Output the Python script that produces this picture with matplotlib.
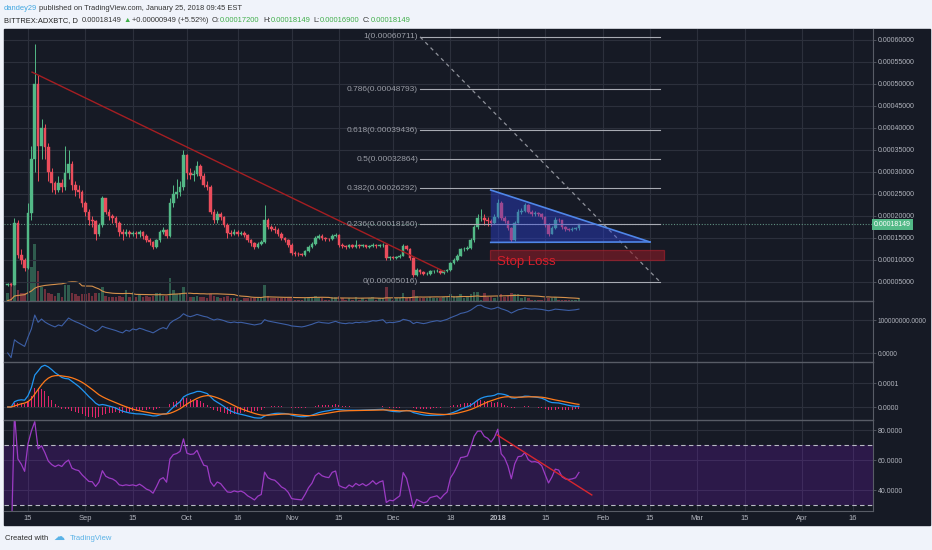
import numpy as np
import pandas as pd
import matplotlib
matplotlib.use("Agg")
import matplotlib.pyplot as plt
import matplotlib.dates as mdates
from matplotlib.patches import Rectangle, Polygon
from matplotlib.ticker import FuncFormatter

# ADX/BTC daily candles (Bittrex), prices in units of 1e-5 BTC
start = "2017-08-09"
first_open = 4.3
closes = [4.5, 4.4, 18.4, 11.2, 10.0, 8.2, 20.7, 33.0, 50.0, 36.0,
          40.0, 35.7, 30.0, 27.5, 26.0, 27.5, 26.5, 29.8, 31.8, 27.0,
          26.0, 25.5, 23.0, 21.0, 19.0, 18.8, 16.0, 18.0, 24.0, 21.0,
          20.0, 19.5, 18.4, 16.4, 16.0, 16.3, 16.0, 16.2, 15.8, 16.3,
          15.5, 14.5, 14.0, 13.0, 14.5, 16.3, 16.8, 15.5, 23.0, 25.0,
          25.5, 26.5, 33.8, 29.7, 29.3, 29.5, 31.4, 29.2, 27.0, 26.7,
          21.0, 19.0, 20.5, 19.8, 18.0, 16.2, 16.0, 16.4, 16.0, 16.2,
          15.6, 14.5, 13.8, 13.0, 13.7, 14.0, 19.0, 17.5, 17.0, 16.8,
          16.0, 15.0, 14.5, 13.5, 11.6, 11.4, 11.3, 11.2, 12.0, 13.0,
          13.7, 15.0, 15.5, 15.0, 14.8, 14.7, 15.5, 15.7, 13.4, 13.1,
          12.9, 13.3, 13.0, 13.4, 13.1, 13.3, 13.0, 13.2, 13.5, 13.1,
          13.3, 13.4, 10.4, 10.6, 10.5, 10.7, 10.9, 13.2, 12.5, 10.4,
          6.6, 7.7, 7.2, 6.8, 6.9, 7.4, 7.5, 7.6, 7.0, 7.4,
          7.7, 9.3, 10.0, 11.0, 12.4, 12.5, 12.7, 14.5, 17.5, 19.5,
          19.6, 19.0, 18.8, 18.4, 19.8, 23.0, 19.5, 18.8, 17.3, 14.5,
          18.5, 21.0, 21.2, 22.5, 21.0, 20.5, 20.6, 20.4, 19.8, 18.0,
          16.0, 17.3, 19.2, 19.0, 17.5, 17.0, 16.9, 17.0, 17.2, 18.149]
highs = [4.8, 4.7, 19.5, 19.0, 12.5, 10.5, 23.0, 36.0, 59.0, 52.0,
         42.0, 41.0, 36.5, 31.0, 28.0, 29.0, 28.5, 36.0, 35.0, 32.5,
         28.0, 27.0, 26.0, 23.5, 21.5, 20.0, 19.2, 18.5, 24.5, 24.2,
         21.5, 20.5, 20.0, 18.8, 17.0, 17.0, 16.8, 16.6, 16.5, 16.8,
         16.6, 15.8, 15.0, 14.3, 14.8, 16.8, 17.5, 17.0, 24.0, 27.0,
         28.5, 28.0, 35.0, 34.0, 31.0, 30.5, 32.5, 31.8, 29.8, 28.0,
         27.0, 21.5, 21.2, 21.0, 20.0, 18.3, 16.8, 17.0, 16.8, 16.6,
         16.5, 15.9, 14.8, 14.2, 14.1, 14.5, 22.5, 19.5, 18.0, 17.8,
         17.2, 16.3, 15.3, 14.8, 13.8, 12.0, 11.8, 11.7, 12.3, 13.4,
         14.2, 15.5, 16.0, 15.8, 15.3, 15.1, 15.9, 16.2, 15.9, 13.8,
         13.5, 13.7, 13.6, 14.5, 13.7, 13.7, 13.5, 13.5, 13.9, 13.7,
         13.6, 13.8, 13.6, 11.0, 10.9, 11.0, 11.3, 13.6, 13.5, 12.7,
         10.6, 8.2, 7.9, 7.4, 7.2, 7.7, 7.8, 7.9, 7.8, 7.7,
         8.0, 9.6, 10.4, 11.4, 12.8, 13.0, 13.2, 15.0, 18.0, 20.5,
         21.5, 20.5, 19.8, 19.3, 20.5, 23.8, 23.4, 20.0, 19.2, 17.6,
         18.9, 21.5, 21.8, 23.0, 22.8, 21.4, 21.1, 20.9, 20.7, 20.1,
         18.3, 17.7, 19.7, 19.6, 19.2, 17.8, 17.3, 17.4, 17.6, 18.149]
lows = [4.2, 4.1, 4.3, 10.5, 9.0, 7.5, 8.0, 19.0, 30.0, 28.0,
        33.0, 33.0, 28.0, 25.5, 25.0, 25.5, 25.5, 26.0, 28.5, 26.0,
        24.5, 24.0, 22.0, 20.0, 18.0, 17.5, 14.5, 15.5, 17.5, 20.5,
        19.0, 18.5, 17.5, 15.5, 14.5, 15.5, 15.2, 15.5, 15.0, 15.3,
        14.8, 14.0, 13.5, 12.6, 12.8, 14.2, 15.8, 15.0, 15.2, 22.0,
        24.0, 24.5, 26.0, 28.5, 28.5, 28.0, 29.0, 28.5, 26.5, 26.0,
        20.5, 18.5, 18.5, 19.2, 17.5, 15.0, 15.4, 15.6, 15.5, 15.6,
        15.2, 14.0, 13.2, 12.5, 12.7, 13.3, 13.8, 17.0, 16.5, 16.2,
        15.5, 14.5, 14.0, 13.0, 11.2, 11.0, 10.9, 10.8, 11.0, 11.8,
        12.8, 13.5, 14.7, 14.6, 14.4, 14.3, 14.5, 15.2, 13.0, 12.7,
        12.5, 12.7, 12.7, 12.8, 12.8, 12.9, 12.7, 12.8, 13.0, 12.8,
        12.9, 13.0, 10.0, 10.1, 10.2, 10.3, 10.5, 10.8, 12.2, 10.1,
        6.2, 6.4, 6.9, 6.5, 6.6, 6.7, 7.1, 7.2, 6.8, 6.9,
        7.2, 7.6, 9.1, 9.8, 10.8, 12.0, 12.2, 12.5, 14.2, 17.0,
        18.8, 18.0, 17.8, 17.8, 18.2, 19.5, 19.0, 18.3, 16.8, 14.0,
        14.3, 18.3, 20.5, 20.8, 20.6, 20.0, 20.1, 19.9, 19.3, 17.5,
        15.5, 15.8, 17.1, 18.6, 17.1, 16.6, 16.5, 16.6, 16.8, 16.9]
# volume in millions of ADX
volumes = [6, 14, 54, 8, 6, 6, 28, 25, 42, 22,
           10, 9, 6, 5, 4, 6, 3, 12, 12, 6,
           5, 4, 5, 5, 6, 4, 6, 6, 10, 4,
           3, 3, 3, 4, 3, 8, 3, 7, 3, 5,
           3, 4, 3, 4, 6, 6, 4, 4, 17, 8,
           5, 6, 10, 6, 3, 3, 4, 3, 3, 2,
           5, 4, 3, 2, 3, 4, 2, 2, 2, 1,
           2, 2, 2, 2, 2, 2, 12, 4, 2, 2,
           2, 2, 2, 2, 3, 1, 1, 1, 2, 3,
           3, 4, 3, 2, 1, 1, 3, 3, 4, 2,
           1, 2, 1, 3, 1, 2, 1, 2, 3, 1,
           2, 2, 10, 2, 1, 2, 2, 6, 2, 3,
           8, 4, 2, 2, 2, 3, 2, 2, 2, 3,
           3, 5, 4, 4, 5, 2, 3, 5, 7, 7,
           1, 6, 3, 3, 2, 4, 5, 3, 4, 6,
           5, 5, 2, 3, 2, 1, 1, 1, 1, 2,
           2, 2, 3, 1, 1, 1, 1, 1, 1, 2]

# drawings (day offsets from start, price in 1e-5 BTC)
trend_days = [7.2, 129.1]
trend_prices = [52.7, 7.39]
fib_days = [122.0, 193.0]
fib_label_day = 121.4
fib_levels = ["1", "0.786", "0.618", "0.5", "0.382", "0.236", "0"]
fib_prices = [60.711, 48.793, 39.436, 32.864, 26.292, 18.160, 5.016]
tri_days = [142.9, 142.9, 190.0]
tri_prices = [25.9, 14.0, 14.1]
stop_days = [142.7, 194.2]
stop_prices = [10.0, 12.3]
stop_text_pos = (144.8, 9.55)
rsi_line_days = [144.8, 172.8]
rsi_line_vals = [76.7, 36.7]
last_price = 18.149

tick_dates = ["2017-08-15", "2017-09-01", "2017-09-15", "2017-10-01", "2017-10-16",
              "2017-11-01", "2017-11-15", "2017-12-01", "2017-12-18", "2018-01-01",
              "2018-01-15", "2018-02-01", "2018-02-15", "2018-03-01", "2018-03-15",
              "2018-04-01", "2018-04-16"]
tick_labels = ["15", "Sep", "15", "Oct", "16", "Nov", "15", "Dec", "18", "2018",
               "15", "Feb", "15", "Mar", "15", "Apr", "16"]

plt.rcParams["font.family"] = ["Liberation Sans", "DejaVu Sans"]

BG = "#161a25"
GRID = "#2c303c"
SEP = "#585c66"
TXT = "#b2b5be"
UP = "#53b987"
DOWN = "#eb4d5c"
AX_FS = 5.0

W, H = 932, 550
fig = plt.figure(figsize=(W / 100, H / 100), dpi=100, facecolor="#f0f3fa")


def box(x0, y0, x1, y1):
    return [x0 / W, 1 - y1 / H, (x1 - x0) / W, (y1 - y0) / H]


fig.patches.append(Rectangle((4 / W, 1 - 525 / H), 926 / W, 496 / H,
                             transform=fig.transFigure, color=BG, zorder=-5))

ax_main = fig.add_axes(box(4, 29, 873, 301))
ax_vol = ax_main.twinx()
ax_obv = fig.add_axes(box(4, 301, 873, 362), sharex=ax_main)
ax_macd = fig.add_axes(box(4, 362, 873, 420), sharex=ax_main)
ax_rsi = fig.add_axes(box(4, 420, 873, 511), sharex=ax_main)

dates = pd.date_range(start, periods=len(closes), freq="D")
x = mdates.date2num(dates)
x0 = mdates.date2num(pd.Timestamp(start))
c = np.array(closes) * 1e-5
o = np.array([first_open] + closes[:-1]) * 1e-5
hi = np.array(highs) * 1e-5
lo = np.array(lows) * 1e-5
vol = np.array(volumes) * 1e6
up = c >= o
col = np.where(up, UP, DOWN)

# volume + MA (behind candles)
ax_vol.set_zorder(1)
ax_main.set_zorder(2)
ax_main.patch.set_visible(False)
ax_vol.patch.set_facecolor(BG)
ax_vol.bar(x, vol, width=0.75, color=col, alpha=0.42, lw=0)
vol_ma = pd.Series(vol).rolling(20, min_periods=1).sum() / 20
ax_vol.plot(x, vol_ma, color="#d6914c", lw=0.8)
ax_vol.set_ylim(0, 201e6)
ax_vol.set_yticks([])
for s in ax_vol.spines.values():
    s.set_visible(False)

# candles
ax_main.vlines(x, lo, hi, color=col, lw=0.7, zorder=3)
ax_main.bar(x, np.abs(c - o), bottom=np.minimum(o, c), width=0.78, color=col,
            edgecolor=col, lw=0.3, zorder=3)
ax_main.axhline(last_price * 1e-5, color="#5f8f80", lw=0.8, ls=(0, (1, 1.5)), zorder=2)

# red trend line
ax_main.plot([x0 + d for d in trend_days], np.array(trend_prices) * 1e-5,
             color="#a51e22", lw=1.0, zorder=4)

# fibonacci retracement
for lvl, p in zip(fib_levels, fib_prices):
    ax_main.plot([x0 + fib_days[0], x0 + fib_days[1]], [p * 1e-5] * 2,
                 color="#a8abb3", lw=0.8, zorder=4)
    ax_main.text(x0 + fib_label_day, p * 1e-5, f"{lvl}({p * 1e-5:.8f})",
                 ha="right", va="center", fontsize=6.0, color="#9a9da6", zorder=5)
ax_main.plot([x0 + fib_days[0], x0 + fib_days[1]],
             [fib_prices[0] * 1e-5, fib_prices[-1] * 1e-5],
             color="#8f929b", lw=0.9, ls=(0, (3, 3)), zorder=4)

# descending triangle
tri = np.column_stack([[x0 + d for d in tri_days], np.array(tri_prices) * 1e-5])
ax_main.add_patch(Polygon(tri, closed=True, fc="#2c42dc", alpha=0.42, ec="none", zorder=4))
ax_main.plot(tri[[0, 2], 0], tri[[0, 2], 1], color="#4f86e8", lw=1.2, zorder=5)
ax_main.plot(tri[[1, 2], 0], tri[[1, 2], 1], color="#4f86e8", lw=1.2, zorder=5)

# stop loss box
ax_main.add_patch(Rectangle((x0 + stop_days[0], stop_prices[0] * 1e-5),
                            stop_days[1] - stop_days[0],
                            (stop_prices[1] - stop_prices[0]) * 1e-5,
                            fc="#8b1a25", alpha=0.6, ec="#b0202c", lw=0.9, zorder=4))
ax_main.text(x0 + stop_text_pos[0], stop_text_pos[1] * 1e-5, "Stop Loss",
             ha="left", va="center", fontsize=9.5, color="#d61f2b", zorder=6)

ax_main.set_ylim(0.68e-5, 62.5e-5)
ax_main.set_yticks(np.arange(1, 13) * 5e-5)
ax_main.yaxis.set_major_formatter(FuncFormatter(lambda v, p: f"{v:.8f}"))
ax_main.text(1.001, last_price * 1e-5, f"{last_price * 1e-5:.8f}",
             transform=ax_main.get_yaxis_transform(), ha="left", va="center",
             fontsize=AX_FS, color="white", zorder=10, clip_on=False,
             bbox=dict(boxstyle="square,pad=0.3", fc=UP, ec="none"))

# OBV
obv = np.concatenate([[0], np.cumsum(np.sign(np.diff(c)) * vol[1:])])
ax_obv.plot(x, obv, color="#3d5fa6", lw=0.8)
ax_obv.set_ylim(-0.2727e8, 1.5758e8)
ax_obv.set_yticks([0, 1e8])
ax_obv.set_yticklabels(["0.0000", "100000000.0000"])

# MACD 12 26 9
cs = pd.Series(c)
macd = cs.ewm(span=12, adjust=False).mean() - cs.ewm(span=26, adjust=False).mean()
signal = macd.ewm(span=9, adjust=False).mean()
hist = macd - signal
ax_macd.bar(x, hist, width=0.3, color="#e0266a", lw=0)
ax_macd.plot(x, macd, color="#2196f3", lw=0.9)
ax_macd.plot(x, signal, color="#ff7a1a", lw=0.9)
ax_macd.set_ylim(-0.2708e-4, 0.9375e-4)
ax_macd.set_yticks([0, 0.5e-4])
ax_macd.set_yticklabels(["0.0000", "0.0001"])

# RSI 14
delta = cs.diff()
gain = delta.clip(lower=0).ewm(alpha=1 / 14, adjust=False).mean()
loss = (-delta.clip(upper=0)).ewm(alpha=1 / 14, adjust=False).mean()
rsi = 100 - 100 / (1 + gain / loss)
ax_rsi.axhspan(30, 70, color="#9915ff", alpha=0.17, lw=0)
ax_rsi.axhline(70, color="#b8bac4", lw=0.8, ls=(0, (4, 3)))
ax_rsi.axhline(30, color="#b8bac4", lw=0.8, ls=(0, (4, 3)))
ax_rsi.plot(x, rsi, color="#9c3bc4", lw=0.9)
ax_rsi.plot([x0 + d for d in rsi_line_days], rsi_line_vals, color="#d8262e", lw=1.0)
ax_rsi.set_ylim(26, 86.67)
ax_rsi.set_yticks([40, 60, 80])
ax_rsi.set_yticklabels(["40.0000", "60.0000", "80.0000"])

# shared styling
tick_x = mdates.date2num(pd.to_datetime(tick_dates))
ax_main.set_xlim(x0 - 1.1, x0 + 256.0)
for ax in (ax_main, ax_obv, ax_macd, ax_rsi):
    if ax is not ax_main:
        ax.set_facecolor(BG)
    ax.set_xticks(tick_x)
    ax.grid(True, color=GRID, lw=0.8)
    ax.set_axisbelow(True)
    ax.yaxis.tick_right()
    ax.tick_params(axis="y", direction="out", length=2.2, width=0.6, color=SEP,
                   pad=1.2, labelsize=AX_FS, labelcolor=TXT)
    ax.tick_params(axis="x", length=0, labelbottom=False)
    ax.spines["left"].set_visible(False)
    ax.spines["bottom"].set_visible(False)
    ax.spines["right"].set_color(SEP)
    ax.spines["top"].set_color(SEP)
    ax.spines["top"].set_linewidth(1.0)
ax_obv.tick_params(axis="y", labelsize=4.7)
ax_main.spines["top"].set_visible(False)
ax_rsi.spines["bottom"].set_visible(True)
ax_rsi.spines["bottom"].set_color(SEP)
ax_rsi.tick_params(axis="x", labelbottom=True, pad=3, labelsize=5.4, labelcolor=TXT)
ax_rsi.set_xticklabels(tick_labels)
for lbl in ax_rsi.get_xticklabels():
    if lbl.get_text() == "2018":
        lbl.set_fontweight("bold")


# header text
def header(y_px, pieces, size):
    t = fig.text(4 / W, 1 - y_px / H, pieces[0][0], color=pieces[0][1], fontsize=size,
                 va="bottom")
    for s, colr, gap in pieces[1:]:
        t = ax_main.annotate(s, xy=(1, 0), xycoords=t, xytext=(gap, 0),
                             textcoords="offset points", va="bottom", ha="left",
                             color=colr, fontsize=size)


DARK = "#333333"
GREEN = "#3fae49"
HDR_FS = 5.4
header(12, [("dandey29", "#41a7e0"),
            ("published on TradingView.com, January 25, 2018 09:45 EST", DARK, 1.5)], HDR_FS)
header(24, [("BITTREX:ADXBTC, D", "#222222"), ("0.00018149", DARK, 2.5), ("▲", GREEN, 1.5),
            ("+0.00000949 (+5.52%)", DARK, 1), ("O:", DARK, 2.5), ("0.00017200", GREEN, 0),
            ("H:", DARK, 2.5), ("0.00018149", GREEN, 0), ("L:", DARK, 2.5),
            ("0.00016900", GREEN, 0), ("C:", DARK, 2.5), ("0.00018149", GREEN, 0)], HDR_FS)

fig.text(5 / W, 1 - 538 / H, "Created with", fontsize=5.5, color="#2d2d2d", va="center")
fig.text(53 / W, 1 - 537 / H, "☁", fontsize=8, color="#5ab2e6", va="center",
         family="DejaVu Sans")
fig.text(70 / W, 1 - 538 / H, "TradingView", fontsize=5.5, color="#5ab2e6", va="center")

fig.savefig("out.png", dpi=100, facecolor=fig.get_facecolor())
